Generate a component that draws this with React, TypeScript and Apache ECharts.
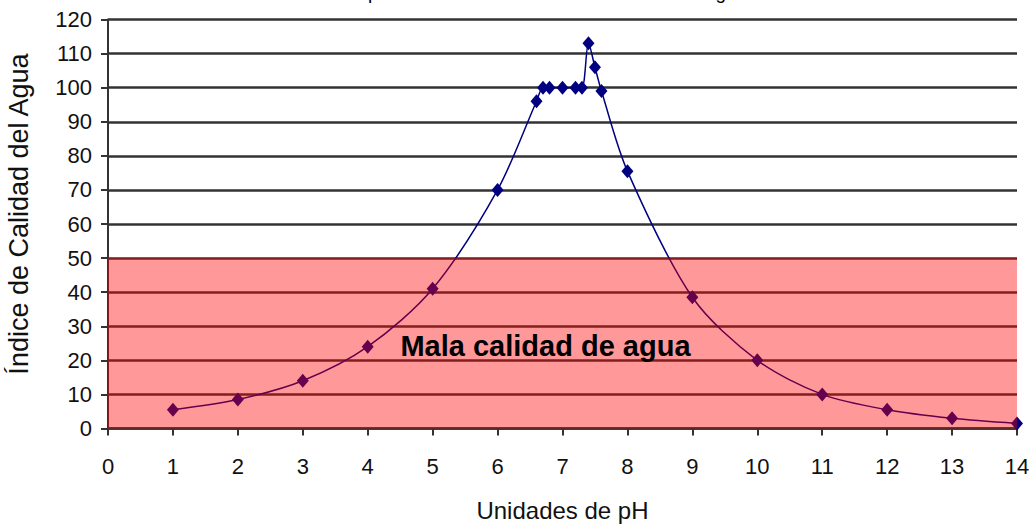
import React, { useEffect, useRef } from "react";
import * as echarts from "echarts";

const phValues = [1, 2, 3, 4, 5, 6, 6.6, 6.7, 6.8, 7, 7.2, 7.3, 7.4, 7.5, 7.6, 8, 9, 10, 11, 12, 13, 14];
const icaValues = [5.5, 8.5, 14, 24, 41, 70, 96, 100, 100, 100, 100, 100, 113, 106, 99, 75.5, 38.5, 20, 10, 5.5, 3, 1.5];
const badZone = { xFrom: 0, xTo: 14, yFrom: 0, yTo: 50, label: "Mala calidad de agua" };
const titleText = "Valoración de pH en función del Índice de Calidad del Agua";
const xName = "Unidades de pH";
const yName = "Índice de Calidad del Agua";

export default function App() {
  const ref = useRef<HTMLDivElement>(null);
  useEffect(() => {
    if (!ref.current) return;
    const chart = echarts.init(ref.current, undefined, { renderer: "svg" });
    const sans = "'Liberation Sans', Arial, sans-serif";
    const data = phValues.map((x, i) => [x, icaValues[i]]);
    chart.setOption({
      animation: false,
      backgroundColor: "#ffffff",
      graphic: [
        {
          type: "text",
          left: 248,
          top: -17.5,
          style: { text: titleText, font: "19px 'Liberation Sans', Arial, sans-serif", fill: "#000" },
        },
      ],
      grid: { left: 108, right: 12, top: 19.5, bottom: 100.5, containLabel: false, outerBoundsMode: "none" },
      xAxis: {
        type: "value",
        min: 0,
        max: 14,
        interval: 1,
        name: xName,
        nameLocation: "middle",
        nameGap: 70,
        nameTextStyle: { fontFamily: sans, fontSize: 24, color: "#111" },
        axisLine: { show: true, onZero: false, lineStyle: { color: "#333", width: 2.5 } },
        axisTick: { show: true, length: 7, lineStyle: { color: "#333", width: 2 } },
        axisLabel: { margin: 27, fontFamily: sans, fontSize: 22, color: "#111" },
        splitLine: { show: false },
      },
      yAxis: {
        type: "value",
        min: 0,
        max: 120,
        interval: 10,
        name: yName,
        nameLocation: "middle",
        nameGap: 76,
        nameRotate: 90,
        nameTextStyle: { fontFamily: sans, fontSize: 27, color: "#111", padding: [0, 0, 0, 20] },
        axisLine: { show: true, lineStyle: { color: "#333", width: 2 } },
        axisTick: { show: true, length: 7, lineStyle: { color: "#333", width: 2 } },
        axisLabel: { margin: 16, fontFamily: sans, fontSize: 22, color: "#111" },
        splitLine: { show: true, lineStyle: { color: "#333", width: 2.5 } },
      },
      series: [
        {
          type: "line",
          data,
          smooth: 0.3,
          symbol: "diamond",
          symbolSize: [12, 14],
          lineStyle: { color: "#000080", width: 1.5 },
          itemStyle: { color: "#000080" },
          z: 2,
        },
        {
          type: "line",
          data: [],
          z: 10,
          markArea: {
            silent: true,
            z: 10,
            itemStyle: { color: "rgba(255,0,0,0.4)" },
            label: {
              show: true,
              position: "inside",
              offset: [-17, 3],
              fontFamily: sans,
              fontWeight: "bold",
              fontSize: 29,
              color: "#000",
            },
            data: [
              [
                { name: badZone.label, coord: [badZone.xFrom, badZone.yFrom] },
                { coord: [badZone.xTo, badZone.yTo] },
              ],
            ],
          },
        },
      ],
    });
    return () => chart.dispose();
  }, []);
  return (
    <div
      ref={ref}
      style={{ position: "fixed", left: 0, top: 0, width: 1029, height: 529, background: "#fff" }}
    />
  );
}
